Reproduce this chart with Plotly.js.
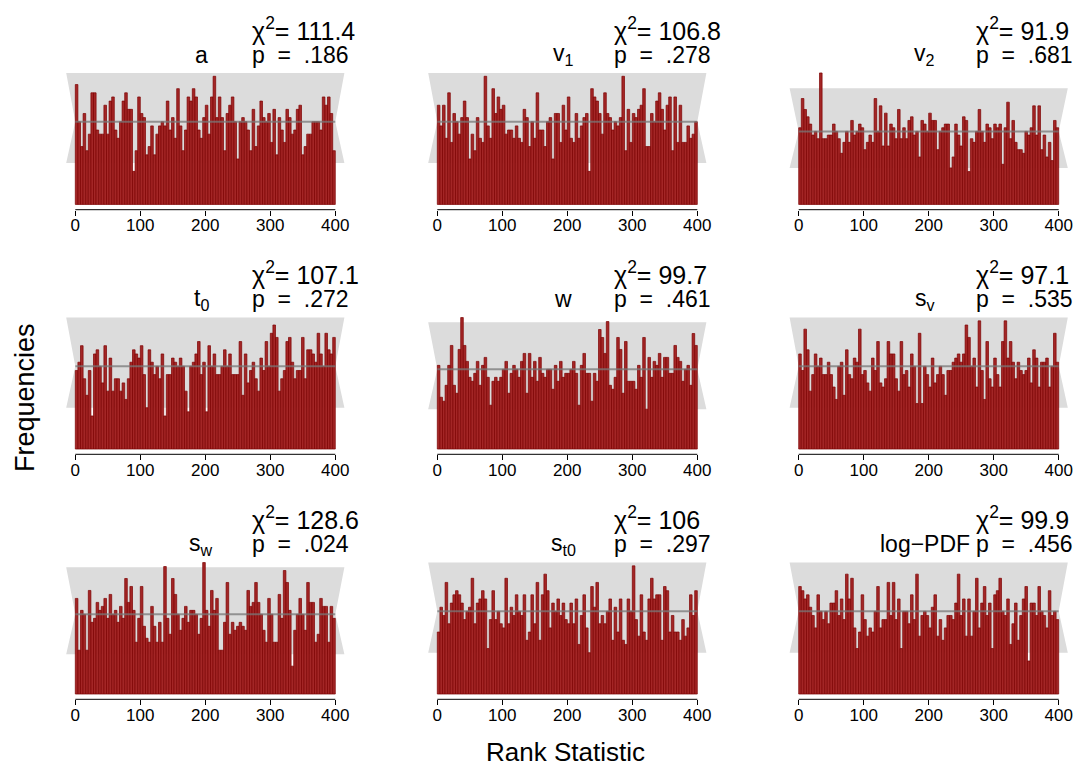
<!DOCTYPE html>
<html><head><meta charset="utf-8">
<script src="https://cdn.plot.ly/plotly-3.0.1.min.js"></script>
<style>body{margin:0;background:#fff}#chart{width:1076px;height:782px}</style>
</head><body><div id="chart"></div>
<script>
// ---- data: counts per rank bin (100 bins of width 4 over ranks 0..400) ----
const a = [29,20,14,22,13,17,27,27,18,17,17,24,17,25,26,18,16,20,25,27,23,23,8,13,26,22,21,12,14,19,12,17,19,20,19,25,18,21,16,28,19,13,18,26,25,28,26,18,16,21,24,17,26,31,21,26,21,13,22,24,26,20,11,20,21,20,18,13,23,14,19,25,21,20,22,15,23,12,21,18,15,23,21,17,18,23,24,12,14,17,17,20,20,20,18,26,24,26,22,13];
const v1 = [24,19,24,16,27,15,22,20,17,21,25,21,11,17,13,21,16,15,31,19,16,28,22,26,23,24,17,18,18,16,19,16,15,23,21,14,20,16,27,18,18,14,20,21,11,22,22,15,24,18,26,16,15,22,16,19,21,22,8,28,26,25,22,17,27,22,21,18,20,19,21,31,13,23,15,22,21,23,24,28,14,14,22,20,25,27,23,18,24,26,13,26,15,24,15,15,19,16,17,20];
const v2 = [21,29,26,24,22,19,20,18,36,18,18,19,19,22,20,18,14,17,20,17,23,19,20,22,21,15,17,19,17,29,20,27,16,25,16,22,21,18,26,18,21,18,23,24,19,20,13,23,22,20,25,23,23,15,20,21,22,22,10,13,22,19,16,24,23,9,18,17,20,26,20,17,22,21,18,22,21,22,11,21,28,18,23,17,15,15,14,20,19,21,27,19,27,15,19,13,17,12,23,21];
const t0 = [19,21,25,17,13,19,8,23,24,20,16,25,14,22,14,17,17,14,16,12,17,21,24,23,22,25,18,10,24,21,18,20,17,23,8,18,18,22,21,20,22,20,14,9,20,21,23,26,18,21,9,25,20,23,18,18,20,24,20,23,18,18,18,26,13,23,16,19,21,17,14,22,19,26,20,28,30,27,14,17,19,26,27,21,17,19,19,27,17,24,24,23,21,28,23,20,28,24,23,27];
const w = [21,13,12,16,21,26,16,14,25,33,26,22,18,17,19,22,16,21,23,18,11,17,18,17,18,20,22,14,19,21,20,18,22,24,14,24,18,22,17,23,19,18,20,20,15,21,17,22,18,19,19,20,22,19,11,21,24,19,19,12,19,17,30,28,24,32,16,15,18,28,25,14,27,17,17,17,15,21,18,28,10,23,18,22,21,24,18,23,23,19,19,26,23,22,17,20,21,16,29,26];
const sv = [23,19,29,24,14,18,23,20,22,18,18,21,18,15,12,20,21,13,24,18,17,22,21,29,18,19,16,14,22,19,26,16,15,17,26,23,23,17,14,26,18,19,15,23,20,11,28,11,20,18,15,22,16,18,20,18,13,19,19,21,22,23,21,23,30,27,20,22,15,31,19,12,26,17,15,22,18,15,26,31,22,26,21,17,21,19,18,19,22,16,24,22,15,21,21,22,15,20,28,21];
const sw = [24,11,21,20,11,26,18,19,23,21,22,24,19,25,20,21,18,22,19,29,23,27,21,13,19,27,17,14,13,22,17,13,18,13,32,19,15,29,25,20,16,19,22,18,21,21,20,15,19,33,21,17,26,21,24,11,11,18,28,15,18,16,17,18,17,16,26,22,23,28,23,20,16,13,24,20,13,13,25,19,31,28,21,7,16,20,24,20,16,28,23,23,13,15,24,22,22,13,22,19];
const st0 = [15,21,19,27,17,22,24,25,24,22,18,20,21,28,17,22,23,25,23,11,18,25,18,20,17,16,28,17,21,19,24,20,19,24,13,15,24,17,27,13,24,29,25,16,22,20,23,19,22,18,17,22,17,23,12,19,24,16,10,26,21,27,17,19,17,20,23,13,21,15,23,13,12,23,20,31,18,14,24,15,13,23,28,23,24,24,13,26,25,15,19,15,15,13,18,14,16,24,19,25];
const logPDF = [26,25,23,24,21,19,16,24,20,18,20,17,22,22,25,19,23,18,29,23,28,16,11,15,24,18,14,16,15,20,26,16,18,18,27,19,27,18,23,11,20,20,17,24,18,29,14,19,20,19,16,21,24,14,18,13,16,19,19,18,22,29,19,23,14,23,14,20,28,16,22,26,19,22,11,24,25,28,20,19,23,12,17,22,13,19,23,26,8,22,22,19,26,20,19,16,25,19,20,18];

const panelNames = ["a","v<sub>1</sub>","v<sub>2</sub>","t<sub>0</sub>","w","s<sub>v</sub>","s<sub>w</sub>","s<sub>t0</sub>","log\u2212PDF"];
const chi2 = ["111.4","106.8","91.9","107.1","99.7","97.1","128.6","106","99.9"];
const pvals = [".186",".278",".681",".272",".461",".535",".024",".297",".456"];
const xTicks = [0,100,200,300,400];
const binWidth = 4;
const expected = 20;
const bandLow = 10, bandHigh = 31.8;

const series = [a,v1,v2,t0,w,sv,sw,st0,logPDF];

// ---- layout geometry (pixels) ----
const W = 1076, H = 782;
const colLeft = [64.9, 426.9, 788.3];
const colWidth = 280.8;
const rowAxis = [209.7, 454.3, 699.3];
const plotH = 142;

const FONT = "Liberation Sans, Arial, Helvetica, sans-serif";
const NB = "\u00a0";
const traces = [], shapes = [], annotations = [];
const layout = {
  width: W, height: H, margin: {l:0,r:0,t:0,b:0},
  paper_bgcolor: "#fff", plot_bgcolor: "rgba(0,0,0,0)",
  showlegend: false, bargap: 0, font: {family: FONT, color: "#000"}
};

series.forEach((vals, k) => {
  const n = k + 1, sfx = n === 1 ? "" : String(n);
  const xa = "x" + sfx, ya = "y" + sfx;
  const row = Math.floor(k / 3), col = k % 3;
  const x0 = colLeft[col], yb = rowAxis[row];
  const centers = vals.map((_, i) => i * binWidth + binWidth / 2);
  const M = Math.max(Math.max(...vals), bandHigh);

  traces.push({
    type: "bar", x: centers, y: vals, width: binWidth, xaxis: xa, yaxis: ya,
    marker: {color: "#a32626", line: {color: "#7c0000", width: 0.7}},
    hoverinfo: "skip"
  });

  layout["xaxis" + sfx] = {
    domain: [x0 / W, (x0 + colWidth) / W], anchor: ya,
    range: [-16, 416], tickvals: xTicks, ticks: "outside", ticklen: 5,
    tickwidth: 1, tickcolor: "#000", showgrid: false, zeroline: false,
    showline: false, ticklabelstandoff: -5,
    tickfont: {size: 17, family: FONT, color: "#000"}, fixedrange: true
  };
  layout["yaxis" + sfx] = {
    domain: [(H - yb) / H, (H - yb + plotH) / H], anchor: xa,
    range: [-0.04 * M, 1.04 * M], visible: false, fixedrange: true
  };

  const L = xTicks[0], R = xTicks[xTicks.length - 1], off = 14;
  shapes.push({
    type: "path", xref: xa, yref: ya, layer: "below",
    path: `M ${L-off},${bandLow} L ${L},${expected} L ${L-off},${bandHigh} L ${R+off},${bandHigh} L ${R},${expected} L ${R+off},${bandLow} Z`,
    fillcolor: "#dcdcdc", line: {width: 0}
  });
  shapes.push({
    type: "line", xref: xa, yref: ya, layer: "above",
    x0: L, x1: R, y0: expected, y1: expected,
    line: {color: "rgba(120,120,120,0.75)", width: 2}
  });
  shapes.push({
    type: "line", xref: xa, yref: ya + " domain", layer: "above",
    x0: L, x1: R, y0: 0, y1: 0, line: {color: "#000", width: 1}
  });

  const yStat1 = (H - (yb - 181)) / H, yStat2 = (H - (yb - 155)) / H;
  annotations.push({xref: xa, yref: "paper", x: 194, y: yStat2, xanchor: "center", yanchor: "middle",
    text: panelNames[k], showarrow: false, font: {size: 23, family: FONT}});
  annotations.push({xref: xa, yref: "paper", x: 269, y: yStat1, xanchor: "left", yanchor: "middle",
    text: "\u03c7<sup>2</sup>= " + chi2[k], showarrow: false, font: {size: 25, family: FONT}});
  annotations.push({xref: xa, yref: "paper", x: 269, y: yStat2, xanchor: "left", yanchor: "middle",
    text: "p" + NB + NB + "=" + NB + NB + pvals[k], showarrow: false, font: {size: 23, family: FONT}});
});

annotations.push({xref: "paper", yref: "paper", x: 565 / W, y: (H - 752) / H, xanchor: "center", yanchor: "middle",
  text: "Rank Statistic", showarrow: false, font: {size: 26, family: FONT}});
annotations.push({xref: "paper", yref: "paper", x: 25 / W, y: (H - 398) / H, xanchor: "center", yanchor: "middle",
  text: "Frequencies", textangle: -90, showarrow: false, font: {size: 27, family: FONT}});

layout.shapes = shapes;
layout.annotations = annotations;
Plotly.newPlot("chart", traces, layout, {displayModeBar: false, staticPlot: true});
</script></body></html>
